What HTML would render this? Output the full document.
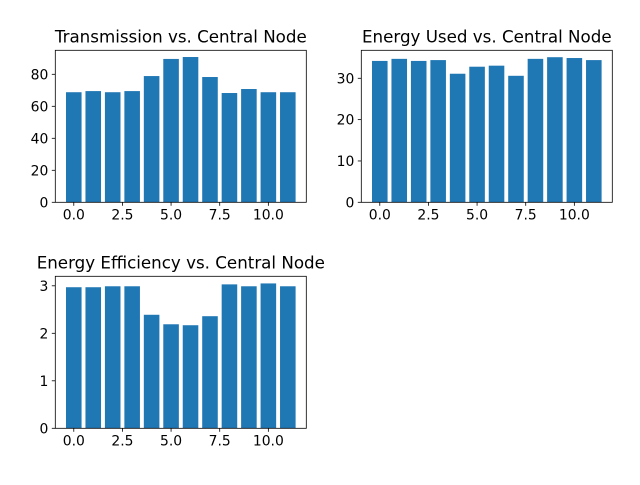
<!DOCTYPE html>
<html><head><meta charset="utf-8"><style>
body{margin:0;background:#fff}
svg text{font-family:"DejaVu Sans","Liberation Sans",sans-serif;fill:#000}
</style></head><body>
<svg id="fig" width="640" height="480" xmlns="http://www.w3.org/2000/svg"></svg>
<script>
const categories=[0,1,2,3,4,5,6,7,8,9,10,11];
const transmission=[68.8,69.5,68.8,69.5,78.9,89.6,90.8,78.3,68.3,70.8,68.8,68.8];
const energyUsed=[34.2,34.7,34.2,34.4,31.1,32.8,33.05,30.6,34.7,35.1,34.9,34.4];
const efficiency=[2.97,2.97,2.99,2.99,2.39,2.19,2.17,2.36,3.03,2.99,3.05,2.99];
const xTicks=[0,2.5,5,7.5,10];
const xTickLabels=["0.0","2.5","5.0","7.5","10.0"];
const yTicks1=[0,20,40,60,80];
const yTicks2=[0,10,20,30];
const yTicks3=[0,1,2,3];
const NS="http://www.w3.org/2000/svg";
const svg=document.getElementById('fig');
function mk(tag,attrs,parent){const e=document.createElementNS(NS,tag);for(const k in attrs)e.setAttribute(k,attrs[k]);(parent||svg).appendChild(e);return e;}
function chart(name,title,vals,yTicks,ymax,L,T,R,B){
  const g=mk('g',{});
  
  
  const xs=v=>L+(v+0.95)/12.9*(R-L);
  const ys=v=>B-v/ymax*(B-T);
  vals.forEach((v,i)=>{
    const r=mk('rect',{x:xs(categories[i]-0.4),y:ys(v),width:xs(0.4)-xs(-0.4),height:B-ys(v),fill:'#1f77b4'},g);
    
    
  });
  const fr=mk('rect',{x:L,y:T,width:R-L,height:B-T,fill:'none',stroke:'#000','stroke-width':0.8},g);
  
  
  xTicks.forEach((t,i)=>{
    const x=xs(t);
    mk('line',{x1:x,x2:x,y1:B,y2:B+3.5,stroke:'#000','stroke-width':0.8},g);
    const tx=mk('text',{x:x,y:B+17,'font-size':13.9,'text-anchor':'middle'},g);
    tx.textContent=xTickLabels[i];
    
    
  });
  yTicks.forEach(t=>{
    const y=ys(t);
    mk('line',{x1:L-3.5,x2:L,y1:y,y2:y,stroke:'#000','stroke-width':0.8},g);
    const tx=mk('text',{x:L-7,y:y+5,'font-size':13.9,'text-anchor':'end'},g);
    tx.textContent=String(t);
    
    
  });
  const tt=mk('text',{x:(L+R)/2,y:T-8,'font-size':16.7,'text-anchor':'middle'},g);
  tt.textContent=title;
  
  
}
chart('transmission-chart','Transmission vs. Central Node',transmission,yTicks1,95,55.3,50.3,306.3,202.3);
chart('energy-used-chart','Energy Used vs. Central Node',energyUsed,yTicks2,36.77,361.3,50.3,612.3,202.3);
chart('energy-efficiency-chart','Energy Efficiency vs. Central Node',efficiency,yTicks3,3.2,55.3,276.3,306.3,428.3);
</script>
</body></html>
